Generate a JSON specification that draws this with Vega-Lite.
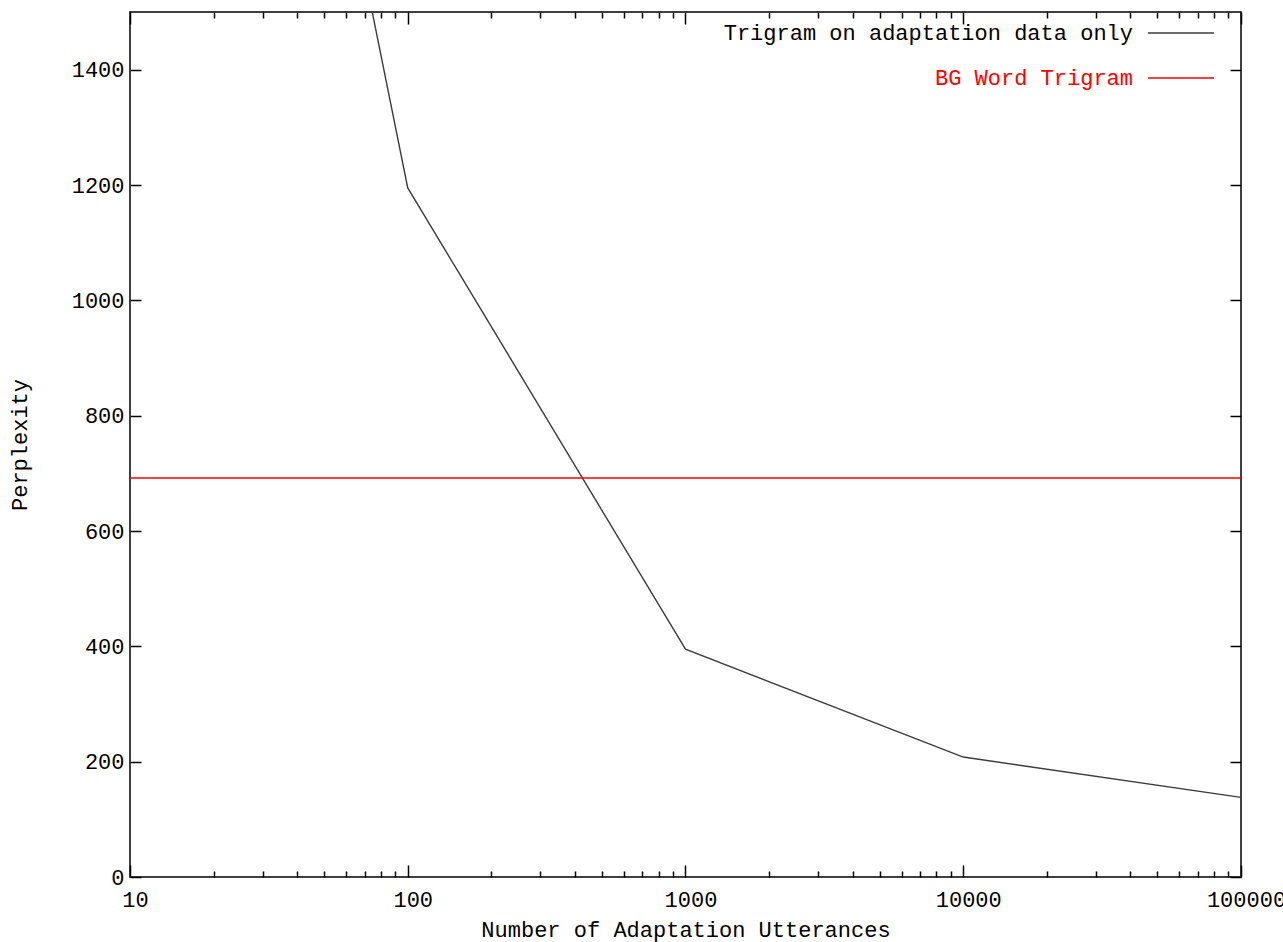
{
  "$schema": "https://vega.github.io/schema/vega-lite/v6.json",
  "width": 1111,
  "height": 865,
  "autosize": {"type": "none"},
  "padding": {"left": 130, "top": 12, "right": 42, "bottom": 65},
  "background": "#ffffff",
  "config": {
    "view": {"stroke": "#000000", "strokeWidth": 1.5},
    "font": "Liberation Mono",
    "axis": {
      "domain": false,
      "grid": false,
      "tickColor": "#000000",
      "tickWidth": 1.5,
      "labelFont": "Liberation Mono",
      "labelFontSize": 22,
      "labelColor": "#000000",
      "titleFont": "Liberation Mono",
      "titleFontSize": 22,
      "titleFontWeight": "normal",
      "titleColor": "#000000",
      "labelOverlap": false,
      "labelFlush": false
    }
  },
  "datasets": {
    "main": [
      {"series": "Trigram on adaptation data only", "utterances": 10, "perplexity": 3580},
      {"series": "Trigram on adaptation data only", "utterances": 100, "perplexity": 1195},
      {"series": "Trigram on adaptation data only", "utterances": 1000, "perplexity": 395},
      {"series": "Trigram on adaptation data only", "utterances": 10000, "perplexity": 208},
      {"series": "Trigram on adaptation data only", "utterances": 100000, "perplexity": 138}
    ],
    "bg": [
      {"series": "BG Word Trigram", "perplexity": 692}
    ]
  },
  "layer": [
    {
      "data": {"name": "main"},
      "mark": {"type": "line", "clip": true, "strokeWidth": 1.4},
      "encoding": {
        "x": {
          "field": "utterances",
          "type": "quantitative",
          "scale": {"type": "log", "domain": [10, 100000], "nice": false},
          "axis": {
            "orient": "bottom",
            "title": "Number of Adaptation Utterances",
            "values": [10,20,30,40,50,60,70,80,90,100,200,300,400,500,600,700,800,900,1000,2000,3000,4000,5000,6000,7000,8000,9000,10000,20000,30000,40000,50000,60000,70000,80000,90000,100000],
            "labelExpr": "abs(log(datum.value)/LN10 - round(log(datum.value)/LN10)) < 0.001 ? format(datum.value, 'd') : ''",
            "tickSize": {"condition": {"test": "abs(log(datum.value)/LN10 - round(log(datum.value)/LN10)) > 0.001", "value": -6}, "value": -12},
            "labelPadding": 24,
            "labelOffset": 5,
            "titlePadding": 3
          }
        },
        "y": {
          "field": "perplexity",
          "type": "quantitative",
          "scale": {"domain": [0, 1500], "nice": false, "zero": false},
          "axis": {
            "orient": "left",
            "title": "Perplexity",
            "format": "d",
            "values": [0,200,400,600,800,1000,1200,1400],
            "tickSize": -11,
            "labelPadding": 17,
            "titlePadding": 40
          }
        },
        "color": {
          "field": "series",
          "type": "nominal",
          "scale": {"domain": ["Trigram on adaptation data only", "BG Word Trigram"], "range": ["#3c3c3c", "#ff0000"]},
          "legend": {
            "title": null,
            "orient": "none",
            "legendX": 1017,
            "legendY": -13,
            "symbolType": "stroke",
            "symbolSize": 4356,
            "symbolStrokeWidth": 1.5,
            "labelFont": "Liberation Mono",
            "labelFontSize": 22,
            "labelAlign": "right",
            "labelOffset": -82,
            "rowPadding": -25,
            "labelLimit": 600,
            "encode": {
              "labels": {"update": {"fill": {"signal": "datum.value === 'BG Word Trigram' ? '#ff0000' : '#000000'"}}}
            }
          }
        }
      }
    },
    {
      "data": {"name": "bg"},
      "mark": {"type": "rule", "strokeWidth": 1.5},
      "encoding": {
        "y": {
          "field": "perplexity",
          "type": "quantitative",
          "axis": {
            "orient": "right",
            "title": null,
            "labels": false,
            "values": [0,200,400,600,800,1000,1200,1400],
            "tickSize": -11
          }
        },
        "color": {"field": "series", "type": "nominal"}
      }
    },
    {
      "data": {"name": "main"},
      "mark": {"type": "line", "opacity": 0},
      "encoding": {
        "x": {
          "field": "utterances",
          "type": "quantitative",
          "axis": {
            "orient": "top",
            "title": null,
            "labels": false,
            "values": [10,20,30,40,50,60,70,80,90,100,200,300,400,500,600,700,800,900,1000,2000,3000,4000,5000,6000,7000,8000,9000,10000,20000,30000,40000,50000,60000,70000,80000,90000,100000],
            "tickSize": {"condition": {"test": "abs(log(datum.value)/LN10 - round(log(datum.value)/LN10)) > 0.001", "value": -6}, "value": -12}
          }
        },
        "y": {"field": "perplexity", "type": "quantitative", "axis": null}
      }
    }
  ],
  "resolve": {"axis": {"x": "independent", "y": "independent"}}
}
